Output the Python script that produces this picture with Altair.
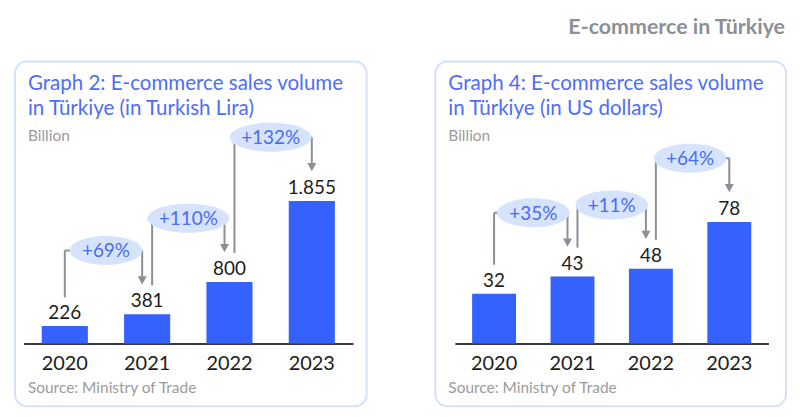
import altair as alt
import pandas as pd

# ---------------- data ----------------
years = ["2020", "2021", "2022", "2023"]
tl_values = [226, 381, 800, 1855]
tl_labels = ["226", "381", "800", "1.855"]
tl_growth = ["+69%", "+110%", "+132%"]
usd_values = [32, 43, 48, 78]
usd_labels = ["32", "43", "48", "78"]
usd_growth = ["+35%", "+11%", "+64%"]

main_title = "E-commerce in Türkiye"
tl_title = ["Graph 2: E-commerce sales volume", "in Türkiye (in Turkish Lira)"]
usd_title = ["Graph 4: E-commerce sales volume", "in Türkiye (in US dollars)"]
unit_text = "Billion"
source_text = "Source: Ministry of Trade"

# ---------------- style ----------------
FONT = "Lato"
BAR = "#3561fe"
TITLE_BLUE = "#4d6ef5"
PCT_BLUE = "#4a6cf6"
BUBBLE = "#d6e3fd"
ARROW = "#8a8f98"
FRAME = "#d4e2fd"
GRAY_TXT = "#9b9b9b"
DARK = "#1c1c1c"

TRI = "M-1,-0.9L1,-0.9L0,0.9Z"
C = 0.5523


def ellipse_path(k):
    return (f"M-1,0C-1,{-C*k:.3f} {-C:.3f},{-k:.3f} 0,{-k:.3f}"
            f"C{C:.3f},{-k:.3f} 1,{-C*k:.3f} 1,0"
            f"C1,{C*k:.3f} {C:.3f},{k:.3f} 0,{k:.3f}"
            f"C{-C:.3f},{k:.3f} -1,{C*k:.3f} -1,0Z")


def text_layer(txt, x, y, size, color, weight="normal"):
    return alt.Chart(pd.DataFrame({"t": [txt]})).mark_text(
        align="left", baseline="middle", font=FONT, fontSize=size,
        color=color, fontWeight=weight
    ).encode(x=alt.value(x), y=alt.value(y), text="t:N")


def panel(title_lines, values, labels, growth, width, xrange, ymax):
    height = 346
    base_y = 283
    step = (xrange[1] - xrange[0]) / 4.0
    xs = alt.Scale(domain=years, range=xrange, paddingInner=0.44, paddingOuter=0.22)
    ys = alt.Scale(domain=[0, ymax], range=[base_y, 0], nice=False, zero=True)
    xaxis = alt.Axis(orient="bottom", offset=-(height - base_y), domainColor="#3a3a3a",
                     domainWidth=2, ticks=False, tickSize=0, labelPadding=10,
                     labelFontSize=20, labelFont=FONT, labelColor=DARK, labelAngle=0,
                     title=None, grid=False)

    bars_df = pd.DataFrame({"year": years, "value": values, "label": labels})
    bars = alt.Chart(bars_df).mark_bar(color=BAR).encode(
        x=alt.X("year:N", scale=xs, axis=xaxis, sort=years),
        y=alt.Y("value:Q", scale=ys, axis=None),
    )
    vals = alt.Chart(bars_df).mark_text(
        dy=-13, baseline="middle", font=FONT, fontSize=19, color=DARK
    ).encode(
        x=alt.X("year:N", scale=xs, axis=xaxis, sort=years),
        y=alt.Y("value:Q", scale=ys, axis=None),
        text="label:N",
    )

    conn = pd.DataFrame({
        "src": years[:-1], "dst": years[1:],
        "src_v": values[:-1], "dst_v": values[1:], "g": growth,
    })
    conn["w"] = 36 + 9.2 * conn["g"].str.len()
    conn["esize"] = conn["w"] ** 2
    conn["epath"] = [ellipse_path(29.0 / w) for w in conn["w"]]

    layers = [bars, vals]
    LVL = -64
    for i in range(len(conn)):
        row = conn.iloc[[i]]
        lo = 0 if i == 0 else 5
        ro = -5 if i < len(conn) - 1 else 0
        c = alt.Chart(row)
        left = c.mark_rule(color=ARROW, strokeWidth=2, xOffset=lo,
                           yOffset=-29, y2Offset=LVL).encode(
            x=alt.X("src:N", scale=xs, axis=xaxis),
            y=alt.Y("src_v:Q", scale=ys, axis=None), y2="dst_v:Q")
        horiz = c.mark_rule(color=ARROW, strokeWidth=2, xOffset=lo, x2Offset=ro,
                            yOffset=LVL).encode(
            x=alt.X("src:N", scale=xs, axis=xaxis, bandPosition=0.5),
            x2=alt.X2("dst:N", bandPosition=0.5),
            y=alt.Y("dst_v:Q", scale=ys, axis=None))
        right = c.mark_rule(color=ARROW, strokeWidth=2, xOffset=ro,
                            yOffset=LVL, y2Offset=-37).encode(
            x=alt.X("dst:N", scale=xs, axis=xaxis),
            y=alt.Y("dst_v:Q", scale=ys, axis=None), y2="dst_v:Q")
        head = c.mark_point(shape=TRI, size=81, filled=True, color=ARROW, opacity=1,
                            strokeWidth=0, xOffset=ro, yOffset=-34).encode(
            x=alt.X("dst:N", scale=xs, axis=xaxis),
            y=alt.Y("dst_v:Q", scale=ys, axis=None))
        layers += [left, horiz, right, head]

    cc = alt.Chart(conn)
    bubble = cc.mark_point(filled=True, color=BUBBLE, opacity=1, strokeWidth=0,
                           xOffset=step / 2, yOffset=LVL).encode(
        x=alt.X("src:N", scale=xs, axis=xaxis),
        y=alt.Y("dst_v:Q", scale=ys, axis=None),
        shape=alt.Shape("epath:N", scale=None),
        size=alt.Size("esize:Q", scale=None),
    )
    pct = cc.mark_text(font=FONT, fontSize=19, color=PCT_BLUE, baseline="middle",
                       xOffset=step / 2, yOffset=LVL + 1).encode(
        x=alt.X("src:N", scale=xs, axis=xaxis),
        y=alt.Y("dst_v:Q", scale=ys, axis=None),
        text="g:N",
    )
    layers += [bubble, pct]

    layers += [
        text_layer(title_lines[0], 13, 23, 20.6, TITLE_BLUE),
        text_layer(title_lines[1], 13, 48, 20.6, TITLE_BLUE),
        text_layer(unit_text, 13, 75, 15.5, GRAY_TXT),
        text_layer(source_text, 13, 328, 15.5, GRAY_TXT),
    ]
    return alt.layer(*layers).properties(width=width, height=height)


p1 = panel(tl_title, tl_values, tl_labels, tl_growth, 353, [8.7, 339.3], 3670)
p2 = panel(usd_title, usd_values, usd_labels, usd_growth, 352, [19.6, 334.4], 181)

chart = alt.hconcat(p1, p2, spacing=67).properties(
    title=alt.TitleParams(main_title, anchor="end", fontSize=21.5, fontWeight="bold",
                          color="#8c8f96", font=FONT, offset=22, dx=-2),
    padding={"left": 6, "top": 8, "right": 5, "bottom": 0},
).configure_view(
    stroke=FRAME, strokeWidth=2, cornerRadius=12
)

chart.save("out.html", embed_options={"renderer": "svg", "actions": False})
